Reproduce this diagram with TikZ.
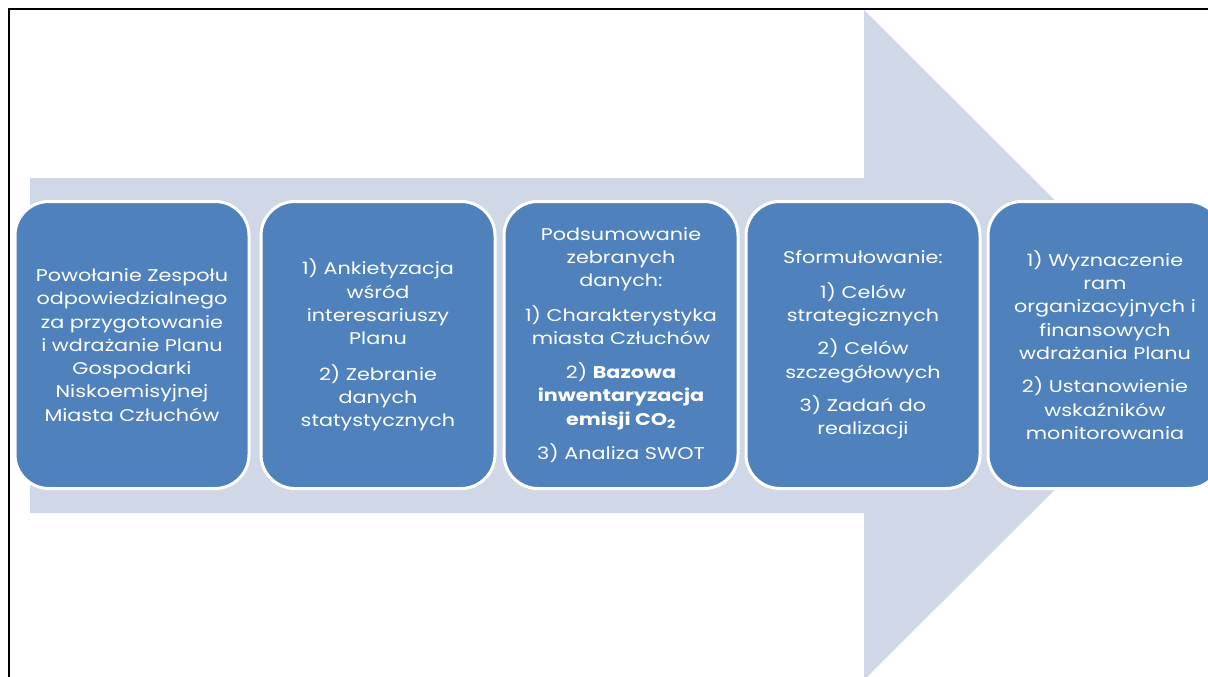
\documentclass[tikz,border=0pt]{standalone}
\usepackage{fontspec}
\setmainfont{Poppins}[FakeStretch=1.22]
\definecolor{arrowfill}{HTML}{D0D8E8}
\definecolor{boxfill}{HTML}{4F81BD}
\begin{document}
\begin{tikzpicture}[x=1pt,y=-1pt,
  stepbox/.style={draw=white, line width=3pt, fill=boxfill, rounded corners=34pt,
    minimum width=234pt, minimum height=287pt, text=white, align=center,
    font=\fontsize{17}{23.3}\selectfont, inner sep=0pt}]
\useasboundingbox (0,0) rectangle (1208,677);
\fill[white] (0,0) rectangle (1208,677);
% big arrow
\fill[arrowfill] (30,178) -- (864,178) -- (864,10) -- (1200,345) -- (864,680) -- (864,513) -- (30,513) -- cycle;
% frame
\draw[line width=2pt] (9,690) -- (9,9) -- (1220,9);
\node[stepbox] (b1) at (132,345) {Powołanie Zespołu\\odpowiedzialnego\\za przygotowanie\\i wdrażanie Planu\\Gospodarki\\Niskoemisyjnej\\Miasta Człuchów};
\node[stepbox] (b2) at (378,345) {1) Ankietyzacja\\wśród\\interesariuszy\\Planu\\[12pt]2) Zebranie\\danych\\statystycznych};
\node[stepbox] (b3) at (621,345) {Podsumowanie\\zebranych\\danych:\\[11pt]1) Charakterystyka\\miasta Człuchów\\[11pt]2) \textbf{Bazowa}\\\textbf{inwentaryzacja}\\\textbf{emisji CO\textsubscript{2}}\\[11pt]3) Analiza SWOT};
\node[stepbox] (b4) at (863,345) {Sformułowanie:\\[11pt]1) Celów\\strategicznych\\[10pt]2) Celów\\szczegółowych\\[10pt]3) Zadań do\\realizacji};
\node[stepbox] (b5) at (1105,345) {1) Wyznaczenie\\ram\\organizacyjnych i\\finansowych\\wdrażania Planu\\[10pt]2) Ustanowienie\\wskaźników\\monitorowania};
\end{tikzpicture}
\end{document}
